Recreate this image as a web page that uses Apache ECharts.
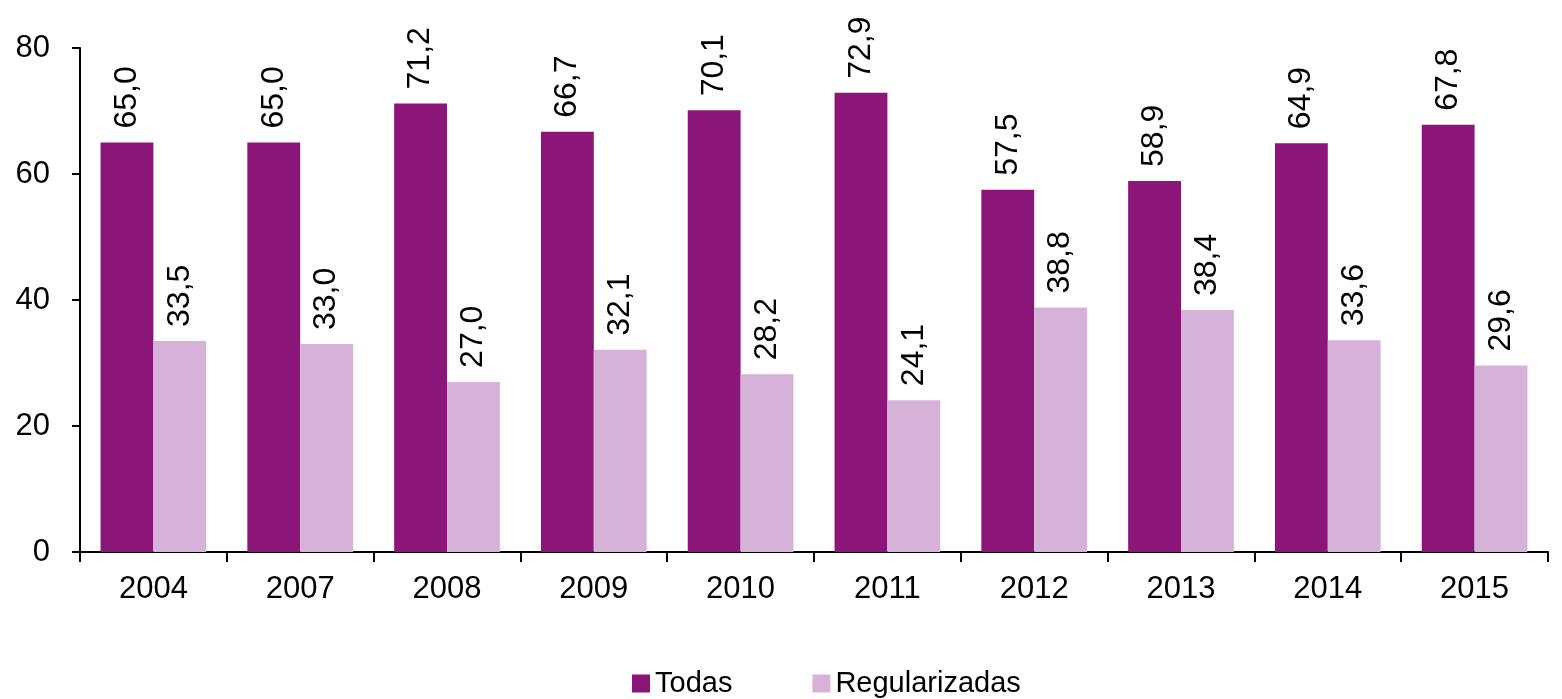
<!DOCTYPE html>
<html>
<head>
<meta charset="utf-8">
<script src="https://cdn.jsdelivr.net/npm/echarts@6/dist/echarts.min.js"></script>
<style>
  html, body { margin: 0; padding: 0; background: #fff; }
  #main { width: 1562px; height: 699px; }
</style>
</head>
<body>
<div id="main"></div>
<script>
var years = ['2004', '2007', '2008', '2009', '2010', '2011', '2012', '2013', '2014', '2015'];
var todas = [65.0, 65.0, 71.2, 66.7, 70.1, 72.9, 57.5, 58.9, 64.9, 67.8];
var regularizadas = [33.5, 33.0, 27.0, 32.1, 28.2, 24.1, 38.8, 38.4, 33.6, 29.6];

var chart = echarts.init(document.getElementById('main'));
var font = '"Liberation Sans", Arial, sans-serif';

function barLabel() {
  return {
    show: true,
    position: 'top',
    rotate: 90,
    align: 'left',
    verticalAlign: 'middle',
    distance: 14,
    color: '#000',
    fontSize: 32,
    fontFamily: font,
    formatter: function (p) {
      return p.value.toFixed(1).replace('.', ',');
    }
  };
}

var option = {
  animation: false,
  textStyle: { fontFamily: font },
  grid: { left: 80, right: 14, top: 48, bottom: 147, containLabel: false },
  legend: {
    top: 669,
    left: 632,
    padding: 0,
    itemWidth: 18,
    itemHeight: 18,
    itemGap: 80,
    icon: 'rect',
    textStyle: { fontSize: 29, color: '#000', fontFamily: font },
    data: ['Todas', 'Regularizadas']
  },
  xAxis: {
    type: 'category',
    data: years,
    axisLine: { lineStyle: { color: '#000', width: 2 } },
    axisTick: { show: true, length: 10, lineStyle: { color: '#000', width: 2 } },
    axisLabel: { color: '#000', fontSize: 31, margin: 22, fontFamily: font }
  },
  yAxis: {
    type: 'value',
    min: 0,
    max: 80,
    interval: 20,
    splitLine: { show: false },
    axisLine: { show: true, lineStyle: { color: '#000', width: 2 } },
    axisTick: { show: true, length: 8, lineStyle: { color: '#000', width: 2 } },
    axisLabel: { color: '#000', fontSize: 31, margin: 30, fontFamily: font }
  },
  series: [
    {
      name: 'Todas',
      type: 'bar',
      data: todas,
      barGap: '0%',
      barCategoryGap: '28%',
      itemStyle: { color: '#8B1579' },
      label: barLabel()
    },
    {
      name: 'Regularizadas',
      type: 'bar',
      data: regularizadas,
      itemStyle: { color: '#D6B2D8' },
      label: barLabel()
    }
  ]
};

chart.setOption(option);
</script>
</body>
</html>
